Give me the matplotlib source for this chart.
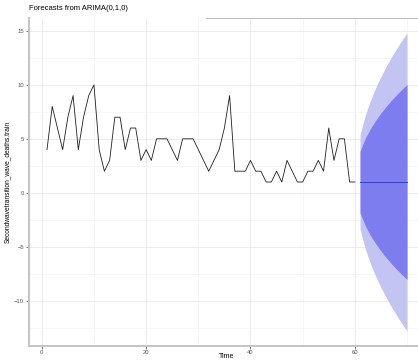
import matplotlib
matplotlib.use("Agg")
import matplotlib.pyplot as plt
import numpy as np

plt.rcParams['font.family'] = ['Liberation Sans', 'DejaVu Sans']

# training series, time index 1..60
time_train = np.arange(1, 61)
deaths_train = [4, 8, 6, 4, 7, 9, 4, 7, 9, 10,
                4, 2, 3, 7, 7, 4, 6, 6, 3, 4,
                3, 5, 5, 5, 4, 3, 5, 5, 5, 4,
                3, 2, 3, 4, 6, 9, 2, 2, 2, 3,
                2, 2, 1, 1, 2, 1, 3, 2, 1, 1,
                2, 2, 3, 2, 6, 3, 5, 5, 1, 1]

# ARIMA(0,1,0) forecast, horizon 10
time_fc = np.arange(61, 71)
fc_mean = [1, 1, 1, 1, 1, 1, 1, 1, 1, 1]
lo80 = [-1.86, -3.04, -3.95, -4.71, -5.39, -6.00, -6.56, -7.08, -7.57, -8.03]
hi80 = [3.86, 5.04, 5.95, 6.71, 7.39, 8.00, 8.56, 9.08, 9.57, 10.03]
lo95 = [-3.37, -5.18, -6.57, -7.74, -8.77, -9.70, -10.56, -11.35, -12.10, -12.81]
hi95 = [5.37, 7.18, 8.57, 9.74, 10.77, 11.70, 12.56, 13.35, 14.10, 14.81]

fig = plt.figure(figsize=(4.18, 3.62), dpi=100)
ax = fig.add_axes([29 / 418, 16 / 362, 396 / 418, 328 / 362])

ax.fill_between(time_fc, lo95, hi95, color='#c4c4f3', lw=0)
ax.fill_between(time_fc, lo80, hi80, color='#7d7def', lw=0)
ax.plot(time_fc, fc_mean, color='#2f3fdc', lw=0.7)
ax.plot(time_train, deaths_train, color='#1e1e1e', lw=0.6)

ax.set_xlim(-2.45, 73.45)
ax.set_ylim(-14.19, 16.19)

ax.set_xticks([0, 20, 40, 60])
ax.set_xticks([10, 30, 50, 70], minor=True)
ax.set_yticks([-10, -5, 0, 5, 10, 15])
ax.set_yticks([-12.5, -7.5, -2.5, 2.5, 7.5, 12.5], minor=True)
ax.grid(True, which='major', color='#ebebeb', lw=0.7)
ax.grid(True, which='minor', color='#f3f3f3', lw=0.5)
ax.set_axisbelow(True)

ax.tick_params(which='major', length=2, width=0.5, color='#444444',
               labelsize=4.2, labelcolor='#555555', pad=1.5)
ax.tick_params(axis='x', which='major', pad=1)
ax.tick_params(which='minor', length=0)

ax.spines['right'].set_visible(False)
for side in ['left', 'bottom']:
    ax.spines[side].set_color('#c4c4c4')
    ax.spines[side].set_linewidth(1.4)
ax.spines['top'].set_color('#bcbcbc')
ax.spines['top'].set_linewidth(0.7)
ax.spines['top'].set_bounds(31.4, 73.45)

ax.set_ylabel('Secondwavetransition_wave_deaths.train', fontsize=4.8, labelpad=2)
fig.text(227 / 418, 1 - 356 / 362, 'Time', fontsize=5.0, ha='center', va='center')
fig.text(29 / 418, 1 - 9 / 362, 'Forecasts from ARIMA(0,1,0)', fontsize=5.5,
         ha='left', va='center')

fig.savefig('out.png', dpi=100)
